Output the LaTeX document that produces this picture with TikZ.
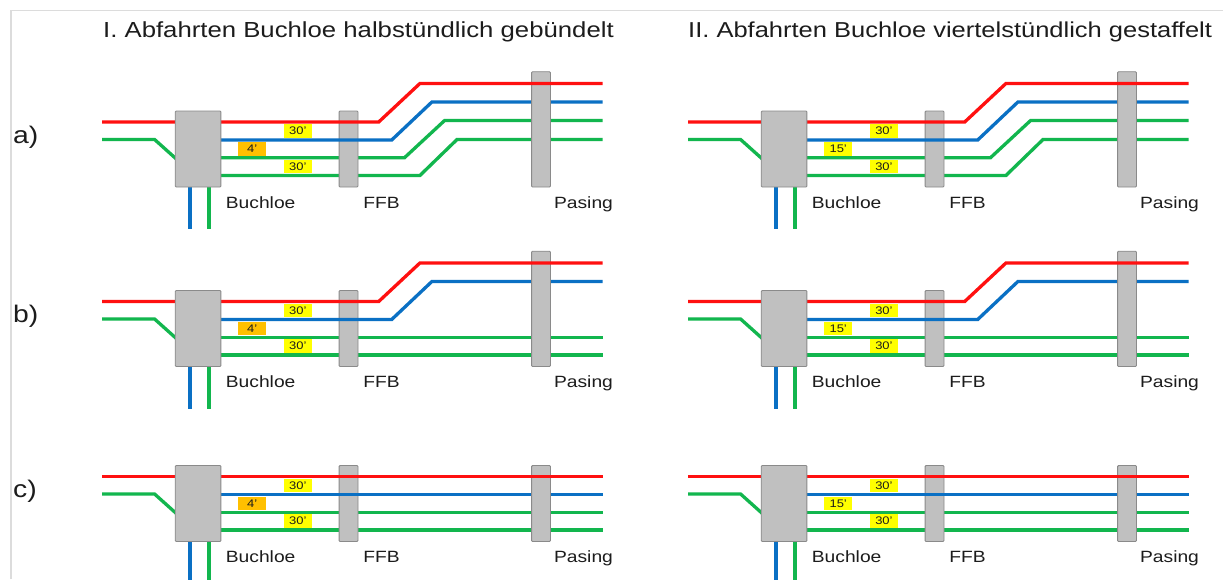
\documentclass[tikz,border=0pt]{standalone}
\usepackage{fontspec}
\setmainfont{Liberation Sans}[FakeStretch=1.18]
\definecolor{railred}{HTML}{FF1010}
\definecolor{railblue}{HTML}{0A70C4}
\definecolor{railgreen}{HTML}{12B64E}
\definecolor{boxfill}{HTML}{C0C0C0}
\definecolor{boxedge}{HTML}{8A8A8A}
\definecolor{tagyellow}{HTML}{FFFF00}
\definecolor{tagorange}{HTML}{FFC000}
\definecolor{framegray}{HTML}{DCDCDC}
\definecolor{inkdark}{HTML}{1C1C1C}

\tikzset{
  track/.style={line width=3.3pt, line join=miter},
  redtrack/.style={track, draw=railred},
  bluetrack/.style={track, draw=railblue},
  greentrack/.style={track, draw=railgreen},
  station/.style={draw=boxedge, fill=boxfill, line width=0.9pt, rounded corners=1pt,
                  inner sep=0pt, minimum width=18.9pt, minimum height=76pt},
  headway/.style={inner sep=0pt, minimum width=27.5pt, minimum height=13.5pt,
                  font=\fontsize{11}{12}\selectfont, text=inkdark},
  stationname/.style={anchor=base west, inner sep=0pt,
                  font=\fontsize{16.3}{18}\selectfont, text=inkdark},
  heading/.style={anchor=base west, inner sep=0pt, text=inkdark},
  rowname/.style={anchor=base west, inner sep=0pt,
                  font=\fontsize{24}{28}\selectfont, text=inkdark}
}

% #1,#2 shift, #3 name prefix, #4 variant (0 = a, 1 = b, 2 = c),
% #5 middle headway text, #6 its colour, #7 length of the feeder lines
\newcommand{\trackpanel}[7]{%
\begin{scope}[shift={(#1,#2)}, name prefix=#3-]
  % green lines
  \draw[greentrack] (102,139.5) -- (154.6,139.5) -- (178,160.5);
  \ifcase#4
    \draw[greentrack] (210,157.8) -- (404.4,157.8) -- (444.6,120.5) -- (602.7,120.5);
    \draw[greentrack] (210,175.5) -- (419.9,175.5) -- (457,139.5) -- (602.7,139.5);
  \else
    \draw[greentrack] (210,157.8) -- (602.7,157.8);
    \draw[greentrack] (210,175.5) -- (602.7,175.5);
  \fi
  \draw[greentrack] (208.9,180) -- (208.9,#7);
  % FFB
  \node[station] (ffb) at (348.55,149) {};
  % blue line
  \ifcase#4
    \draw[bluetrack] (210,140) -- (391.7,140) -- (431.9,102) -- (602.7,102);
  \or
    \draw[bluetrack] (210,140) -- (391.7,140) -- (431.9,102) -- (602.7,102);
  \else
    \draw[bluetrack] (210,140) -- (602.7,140);
  \fi
  \draw[bluetrack] (190,180) -- (190,#7);
  % Pasing
  \ifnum#4<2
    \node[station, minimum height=115.3pt] (pasing) at (541.05,129.35) {};
  \else
    \node[station] (pasing) at (541.05,149) {};
  \fi
  % red line
  \ifnum#4<2
    \draw[redtrack] (102,122) -- (378.7,122) -- (419.9,83.5) -- (602.7,83.5);
  \else
    \draw[redtrack] (102,122) -- (602.7,122);
  \fi
  % Buchloe
  \node[station, minimum width=45.7pt] (buchloe) at (198.05,149) {};
  % headways
  \node[headway, fill=tagyellow] (upper) at (297.9,131) {30’};
  \node[headway, fill=#6] (middle) at (252.2,149) {#5};
  \node[headway, fill=tagyellow] (lower) at (297.9,166.6) {30’};
  % station names
  \node[stationname] (nbuchloe) at (225.7,208.3) {Buchloe};
  \node[stationname] (nffb) at (363.2,208.3) {FFB};
  \node[stationname] (npasing) at (553.9,208.3) {Pasing};
\end{scope}}

\begin{document}
\begin{tikzpicture}[x=1pt, y=-1pt]
  \useasboundingbox (0,0) rectangle (1223,579);
  \clip (0,0) rectangle (1223,579);
  \fill[white] (0,0) rectangle (1223,579);
  % outer frame
  \draw[framegray, line width=1.6pt] (11.2,579) -- (11.2,10.4) -- (1223,10.4);

  \node[heading, font=\fontsize{21.8}{26}\selectfont] (titleone) at (103,37)
    {I. Abfahrten Buchloe halbstündlich gebündelt};
  \node[heading, font=\fontsize{21.6}{26}\selectfont] (titletwo) at (688,37)
    {II. Abfahrten Buchloe viertelstündlich gestaffelt};

  \node[rowname] (rowa) at (13,143) {a)};
  \node[rowname] (rowb) at (13,322.5) {b)};
  \node[rowname] (rowc) at (13,497.5) {c)};

  \trackpanel{0}{0}{Ia}{0}{4’}{tagorange}{229}
  \trackpanel{586}{0}{IIa}{0}{15’}{tagyellow}{229}
  \trackpanel{0}{179.5}{Ib}{1}{4’}{tagorange}{229}
  \trackpanel{586}{179.5}{IIb}{1}{15’}{tagyellow}{229}
  \trackpanel{0}{354.5}{Ic}{2}{4’}{tagorange}{240}
  \trackpanel{586}{354.5}{IIc}{2}{15’}{tagyellow}{240}
\end{tikzpicture}
\end{document}
